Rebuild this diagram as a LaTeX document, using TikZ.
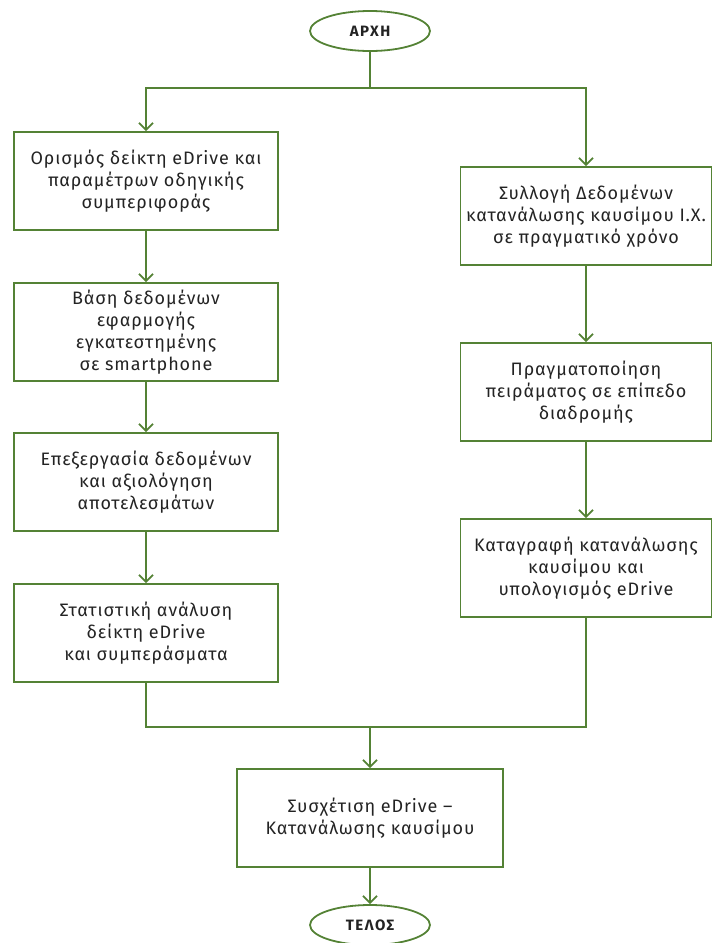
\documentclass[tikz,border=0pt]{standalone}
\usepackage{fontspec}
\setmainfont{Fira Sans}[LetterSpace=5]
\usetikzlibrary{shapes.geometric,arrows.meta}

\definecolor{flowgreen}{RGB}{84,130,53}
\definecolor{flowtext}{RGB}{35,35,35}

\begin{document}
\begin{tikzpicture}[x=1pt,y=-1pt,
    box/.style={draw=flowgreen,line width=1.8pt,align=center,text=flowtext,
      minimum height=98pt,inner sep=0pt,font=\fontsize{18}{22}\selectfont},
    term/.style={ellipse,draw=flowgreen,line width=1.8pt,text=flowtext,
      minimum width=120pt,minimum height=40pt,inner sep=0pt,
      font=\bfseries\fontsize{15}{17}\selectfont\addfontfeature{LetterSpace=10}},
    link/.style={draw=flowgreen,line width=1.8pt},
    arr/.style={link,-{Straight Barb[length=7pt,width=14pt]}}]
\useasboundingbox (0,0) rectangle (713,943);

\node[term] at (370,31) (start) {ΑΡΧΗ};

\node[box,minimum width=264pt] at (146,181) (l1) {Ορισμός δείκτη eDrive και\\παραμέτρων οδηγικής\\συμπεριφοράς};
\node[box,minimum width=264pt] at (146,332) (l2) {Βάση δεδομένων\\εφαρμογής\\εγκατεστημένης\\σε smartphone};
\node[box,minimum width=264pt] at (146,482) (l3) {Επεξεργασία δεδομένων\\και αξιολόγηση\\αποτελεσμάτων};
\node[box,minimum width=264pt] at (146,633) (l4) {Στατιστική ανάλυση\\δείκτη eDrive\\και συμπεράσματα};

\node[box,minimum width=251pt] at (586,216) (r1) {Συλλογή Δεδομένων\\κατανάλωσης καυσίμου Ι.Χ.\\σε πραγματικό χρόνο};
\node[box,minimum width=251pt] at (586,392) (r2) {Πραγματοποίηση\\πειράματος σε επίπεδο\\διαδρομής};
\node[box,minimum width=251pt] at (586,568) (r3) {Καταγραφή κατανάλωσης\\καυσίμου και\\υπολογισμός eDrive};

\node[box,minimum width=266pt] at (370,818) (corr) {Συσχέτιση eDrive –\\Κατανάλωσης καυσίμου};
\node[term] at (370,925) (end) {ΤΕΛΟΣ};

\coordinate (split) at (370,88);
\coordinate (join) at (370,727);

% split to the two branches
\draw[link] (start) -- (split);
\draw[arr] (split) -| (l1);
\draw[arr] (split) -| (r1);

% left branch
\draw[arr] (l1) -- (l2);
\draw[arr] (l2) -- (l3);
\draw[arr] (l3) -- (l4);

% right branch
\draw[arr] (r1) -- (r2);
\draw[arr] (r2) -- (r3);

% merge
\draw[link] (l4) |- (join);
\draw[link] (r3) |- (join);
\draw[arr] (join) -- (corr);
\draw[arr] (corr) -- (end);
\end{tikzpicture}
\end{document}
